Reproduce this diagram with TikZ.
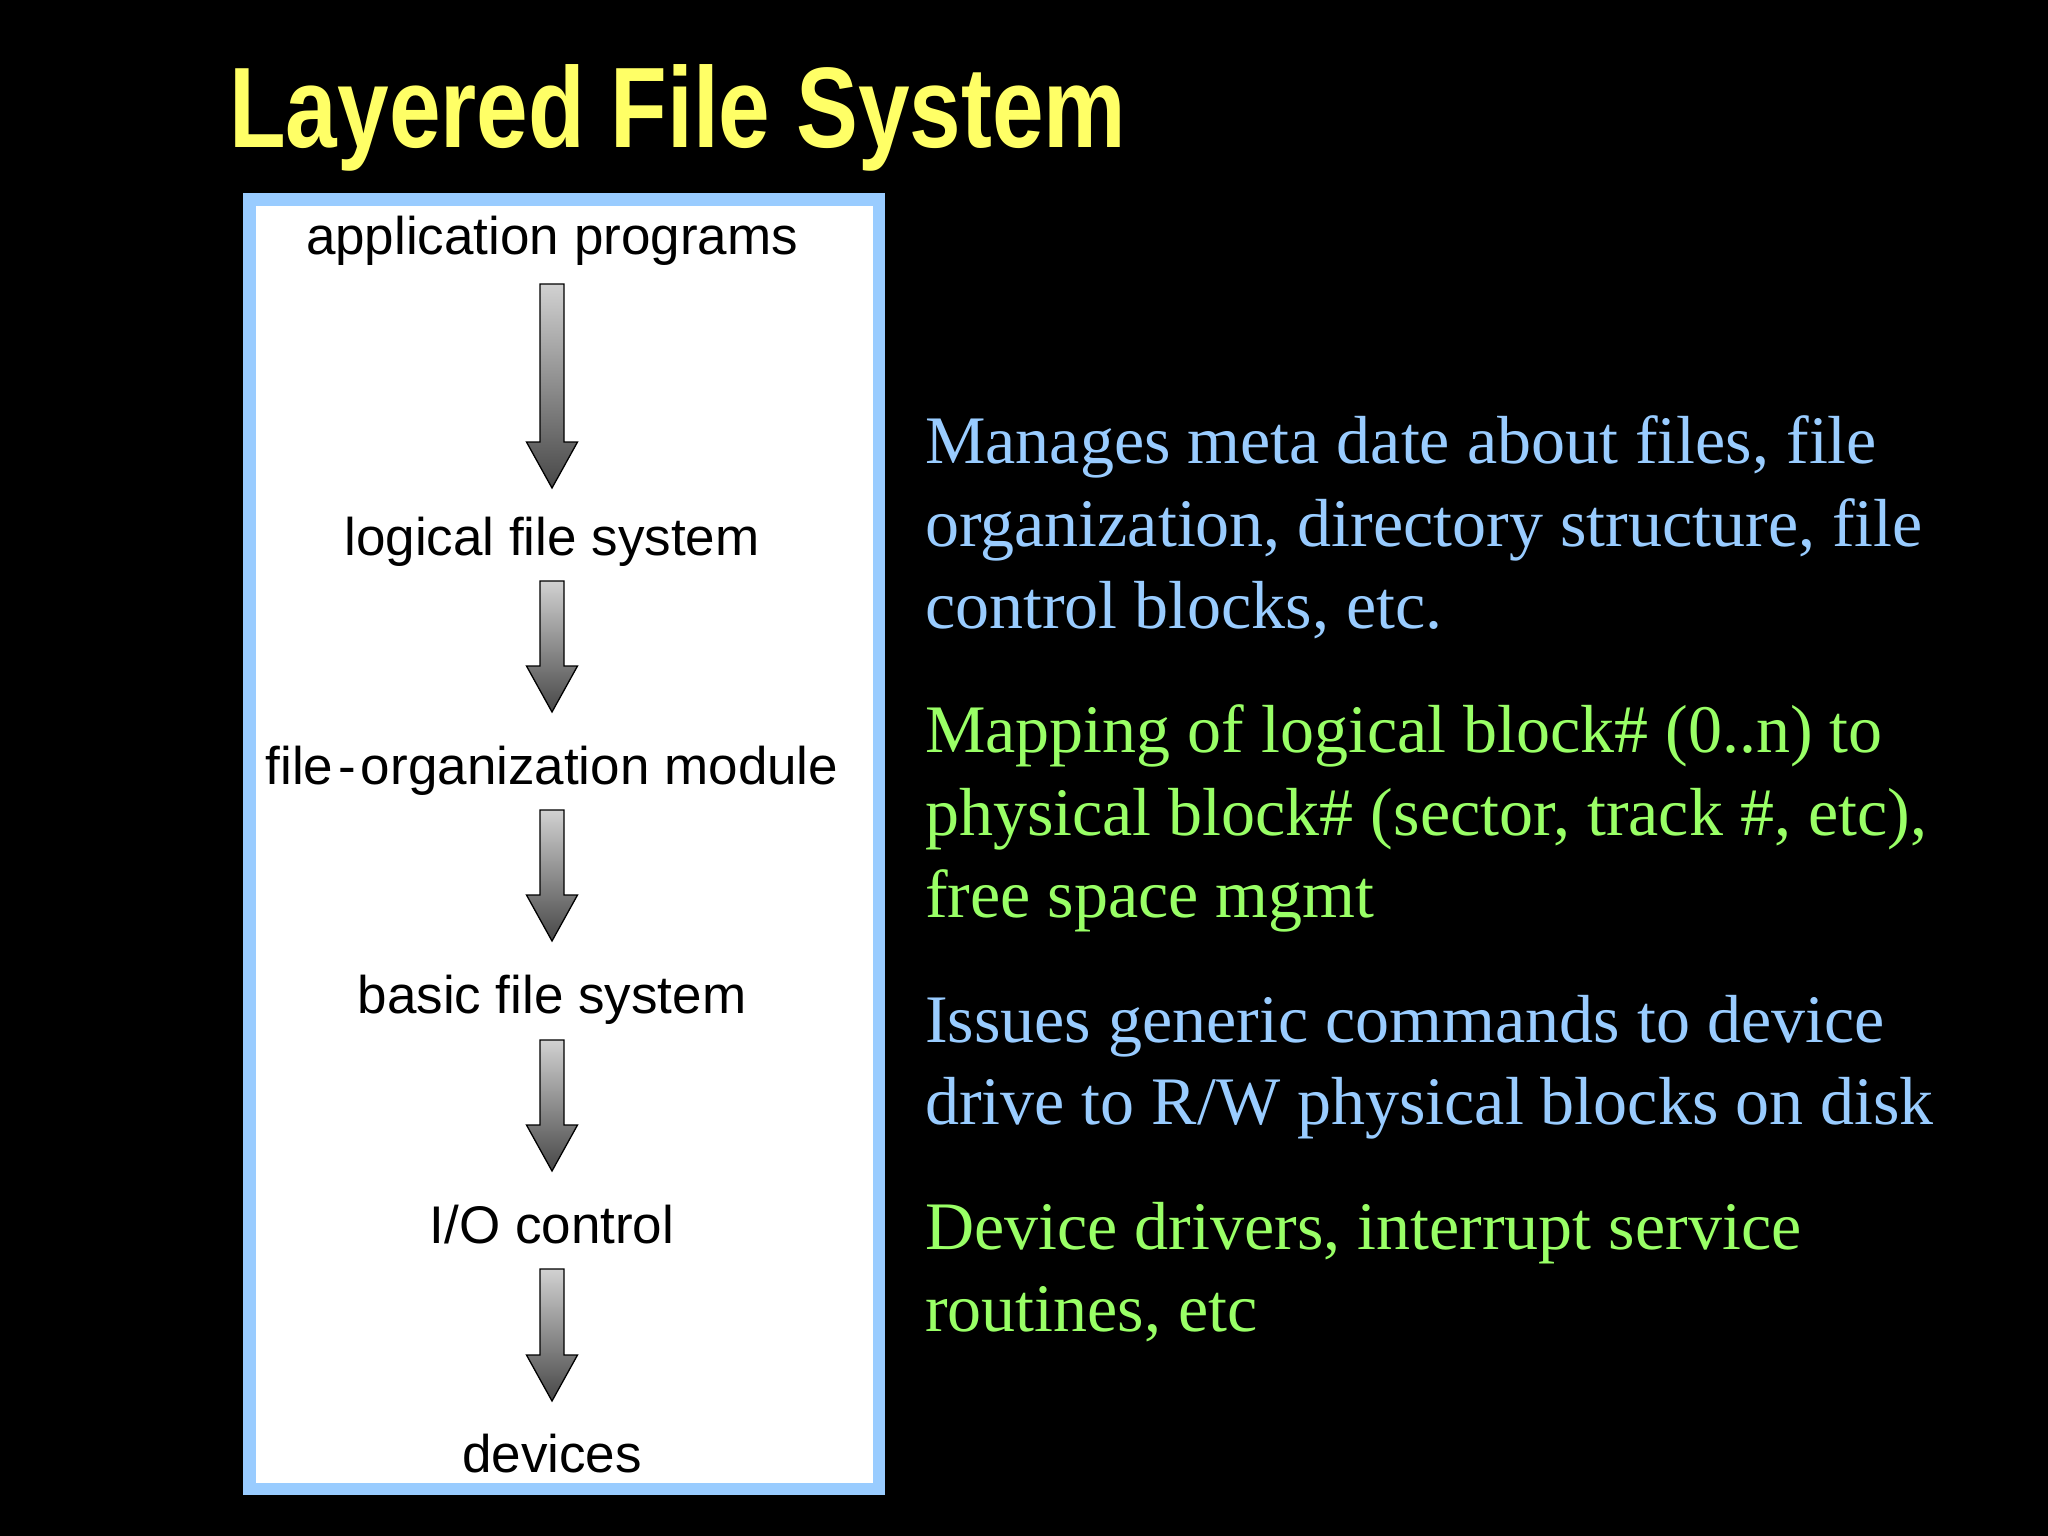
\documentclass[tikz,border=0pt]{standalone}
\usepackage{fontspec}
\setmainfont{Liberation Serif}
\setsansfont{Liberation Sans}
\definecolor{titleyellow}{HTML}{FFFF66}
\definecolor{boxblue}{HTML}{99CCFF}
\definecolor{noteblue}{HTML}{99CCFF}
\definecolor{notegreen}{HTML}{99FF66}
\tikzset{
  layer/.style={anchor=base, inner sep=0pt, text=black, font=\sffamily\fontsize{53}{60}\selectfont},
  noteline/.style={anchor=base west, inner sep=0pt, font=\rmfamily\fontsize{68}{82}\selectfont},
  bluenote/.style={noteline, text=noteblue},
  greennote/.style={noteline, text=notegreen},
  fsarrow/.style={draw=black, line width=1.3pt, line join=miter, top color=black!18, bottom color=black!72},
  framebox/.style={draw=boxblue, line width=12.5pt, fill=white, outer sep=0pt}
}
\newcommand\blockarrow[2]{%
  \path[fsarrow] ([xshift=-12pt]#1) -- ([xshift=12pt]#1) -- ([xshift=12pt,yshift=46pt]#2)
    -- ([xshift=25.5pt,yshift=46pt]#2) -- (#2) -- ([xshift=-25.5pt,yshift=46pt]#2)
    -- ([xshift=-12pt,yshift=46pt]#2) -- cycle;}
\begin{document}
\begin{tikzpicture}[x=1pt,y=-1pt]
\fill[black] (0,0) rectangle (2048,1536);
\useasboundingbox (0,0) rectangle (2048,1536);
% title
\node[anchor=base west, inner sep=0pt, text=titleyellow, font=\sffamily\bfseries\fontsize{114.5}{130}\selectfont] (title) at (229,147) {\scalebox{0.81}[1]{Layered File System}};
% frame
\node[framebox, minimum width=629.5pt, minimum height=1289.5pt, inner sep=0pt, anchor=north west] (frame) at (249.25,199.25) {};
% layers
\node[layer] (app) at (552,254) {application programs};
\node[layer] (lfs) at (552,555) {logical file system};
\node[layer] (fom) at (552,784) {file\kern5pt-\kern5pt organization module};
\node[layer] (bfs) at (552,1013) {basic file system};
\node[layer] (ioc) at (552,1243) {I/O control};
\node[layer] (dev) at (552,1472) {devices};
% arrow ends
\coordinate (a1s) at (552,284);  \coordinate (a1e) at (552,488);
\coordinate (a2s) at (552,581);  \coordinate (a2e) at (552,712);
\coordinate (a3s) at (552,810);  \coordinate (a3e) at (552,941);
\coordinate (a4s) at (552,1040); \coordinate (a4e) at (552,1171);
\coordinate (a5s) at (552,1269); \coordinate (a5e) at (552,1401);
\blockarrow{a1s}{a1e}
\blockarrow{a2s}{a2e}
\blockarrow{a3s}{a3e}
\blockarrow{a4s}{a4e}
\blockarrow{a5s}{a5e}
% notes
\node[bluenote] (n1a) at (925,463) {Manages meta date about files, file};
\node[bluenote] (n1b) at (925,546) {organization, directory structure, file};
\node[bluenote] (n1c) at (925,628) {control blocks, etc.};
\node[greennote] (n2a) at (925,752) {Mapping of logical block\# (0..n) to};
\node[greennote] (n2b) at (925,835) {physical block\# (sector, track \#, etc),};
\node[greennote] (n2c) at (925,917) {free space mgmt};
\node[bluenote] (n3a) at (925,1042) {Issues generic commands to device};
\node[bluenote] (n3b) at (925,1124) {drive to R/W physical blocks on disk};
\node[greennote] (n4a) at (925,1249) {Device drivers, interrupt service};
\node[greennote] (n4b) at (925,1331) {routines, etc};
\end{tikzpicture}
\end{document}
